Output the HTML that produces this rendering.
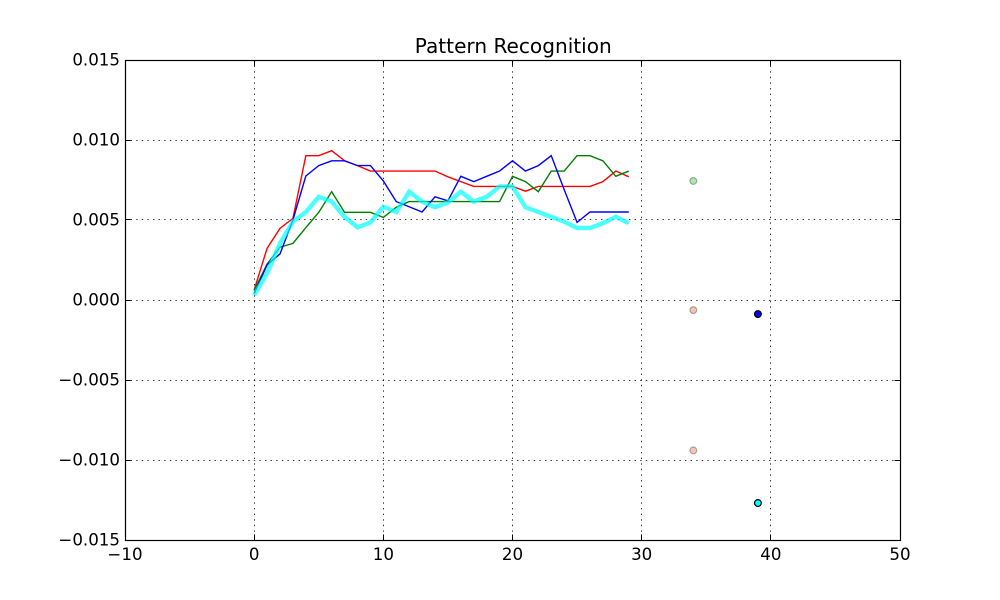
<!DOCTYPE html>
<html>
<head>
<meta charset="utf-8">
<title>Pattern Recognition</title>
<style>
html,body{margin:0;padding:0;background:#fff;width:1000px;height:600px;overflow:hidden}
svg{display:block}
text{font-family:"DejaVu Sans","Liberation Sans",sans-serif;fill:#000}
</style>
</head>
<body>
<svg id="chart" xmlns="http://www.w3.org/2000/svg" width="1000" height="600" viewBox="0 0 1000 600">
<rect x="0" y="0" width="1000" height="600" fill="#fff"/>
<text x="513.3" y="53" font-size="20.1" text-anchor="middle">Pattern Recognition</text>
<g id="grid"></g>
<g id="series"></g>
<g id="points"></g>
<g id="ticks"></g>
<rect x="125.5" y="60.5" width="775" height="480" fill="none" stroke="#000" stroke-width="1.2"/>
<g id="xlabels"></g>
<g id="ylabels"></g>
</svg>
<script>
const xTicks = [-10, 0, 10, 20, 30, 40, 50];
const yTicks = [0.015, 0.010, 0.005, 0.000, -0.005, -0.010, -0.015];
const redValues = [0.00063,0.00323,0.00448,0.0051,0.00902,0.00902,0.00933,0.0087,0.0084,0.00806,0.00806,0.00806,0.00806,0.00806,0.00806,0.0077,0.0074,0.0071,0.0071,0.0071,0.0071,0.0068,0.0071,0.0071,0.0071,0.0071,0.0071,0.0074,0.00806,0.0077];
const greenValues = [0.0006,0.00225,0.0033,0.00354,0.00452,0.00548,0.00677,0.00548,0.00548,0.00548,0.00516,0.0058,0.00615,0.00615,0.00615,0.00615,0.00615,0.00615,0.00615,0.00615,0.00773,0.0074,0.00677,0.00806,0.00806,0.00902,0.00902,0.0087,0.00773,0.00806];
const blueValues = [0.0004,0.0022,0.00288,0.005,0.00775,0.0084,0.0087,0.0087,0.0084,0.0084,0.00744,0.00615,0.00583,0.0055,0.00645,0.0062,0.00773,0.0074,0.00773,0.00806,0.0087,0.00806,0.0084,0.00902,0.0069,0.00485,0.0055,0.0055,0.0055,0.0055];
const cyanValues = [0.0003,0.00168,0.00354,0.0049,0.0055,0.00645,0.00615,0.0052,0.00454,0.00485,0.00583,0.0055,0.00677,0.00615,0.0058,0.0061,0.00677,0.00615,0.00645,0.0071,0.0071,0.0058,0.0055,0.0052,0.0049,0.0045,0.0045,0.0048,0.0052,0.0048];
const scatterX = [34, 34, 34, 39, 39];
const scatterY = [0.00744, -0.00063, -0.0094, -0.00088, -0.01269];
const scatterFill = ['#00c800', '#e87040', '#e87040', '#0000ff', '#00ffff'];
const scatterFillAlpha = [0.35, 0.4, 0.4, 1, 1];
const scatterEdgeAlpha = [0.3, 0.3, 0.3, 1, 1];
const scatterNames = ['point-green', 'point-red-upper', 'point-red-lower', 'point-blue', 'point-cyan'];

const NS = 'http://www.w3.org/2000/svg';
const xMin = -10, xMax = 50, yMin = -0.015, yMax = 0.015;
const left = 125, right = 900, top_ = 60, bottom = 540;
function sx(v) { return left + (v - xMin) / (xMax - xMin) * (right - left); }
function sy(v) { return bottom - (v - yMin) / (yMax - yMin) * (bottom - top_); }
function snap(p) { return Math.floor(p) + 0.5; }
function make(tag, attrs) {
  const el = document.createElementNS(NS, tag);
  for (const k in attrs) el.setAttribute(k, attrs[k]);
  return el;
}
const grid = document.getElementById('grid');
const ticks = document.getElementById('ticks');
const xlabels = document.getElementById('xlabels');
const ylabels = document.getElementById('ylabels');

xTicks.forEach(function (t) {
  const x = snap(sx(t));
  if (t !== xMin && t !== xMax) {
    const g = make('line', {x1: x, x2: x, y1: top_, y2: bottom, stroke: '#000', 'stroke-opacity': 0.8, 'stroke-width': 1, 'stroke-dasharray': '1.4,4.2'});
    
    
    grid.appendChild(g);
  }
  const a = make('line', {x1: x, x2: x, y1: bottom, y2: bottom - 5.5, stroke: '#000', 'stroke-width': 1});
  
  
  ticks.appendChild(a);
  const b = make('line', {x1: x, x2: x, y1: top_, y2: top_ + 5.5, stroke: '#000', 'stroke-width': 1});
  
  
  ticks.appendChild(b);
  const l = make('text', {x: sx(t), y: 560, 'font-size': 16.67, 'text-anchor': 'middle'});
  
  
  l.textContent = String(t).replace('-', '\u2212');
  xlabels.appendChild(l);
});

yTicks.forEach(function (t) {
  const y = snap(sy(t));
  if (t !== yMin && t !== yMax) {
    const g = make('line', {x1: left, x2: right, y1: y, y2: y, stroke: '#000', 'stroke-opacity': 0.8, 'stroke-width': 1, 'stroke-dasharray': '1.4,4.2'});
    
    
    grid.appendChild(g);
  }
  const a = make('line', {x1: left, x2: left + 5.5, y1: y, y2: y, stroke: '#000', 'stroke-width': 1});
  
  
  ticks.appendChild(a);
  const b = make('line', {x1: right, x2: right - 5.5, y1: y, y2: y, stroke: '#000', 'stroke-width': 1});
  
  
  ticks.appendChild(b);
  const l = make('text', {x: 120, y: sy(t) + 5.5, 'font-size': 16.67, 'text-anchor': 'end'});
  
  
  l.textContent = t.toFixed(3).replace('-', '\u2212');
  ylabels.appendChild(l);
});

function drawLine(values, color, width, alpha, name) {
  const pts = values.map(function (v, i) { return sx(i).toFixed(2) + ',' + sy(v).toFixed(2); }).join(' ');
  const p = make('polyline', {points: pts, fill: 'none', stroke: color, 'stroke-width': width, 'stroke-opacity': alpha, 'stroke-linejoin': 'miter'});
  
  
  document.getElementById('series').appendChild(p);
}
drawLine(redValues, '#ff0000', 1.4, 1, 'series-red');
drawLine(greenValues, '#008000', 1.4, 1, 'series-green');
drawLine(blueValues, '#0000ff', 1.4, 1, 'series-blue');
drawLine(cyanValues, '#00ffff', 4.4, 0.7, 'series-cyan');

scatterX.forEach(function (xv, i) {
  const c = make('circle', {cx: sx(xv), cy: sy(scatterY[i]), r: 3.4, fill: scatterFill[i], 'fill-opacity': scatterFillAlpha[i], stroke: '#000', 'stroke-opacity': scatterEdgeAlpha[i], 'stroke-width': 1.2});
  
  
  document.getElementById('points').appendChild(c);
});
</script>
</body>
</html>
